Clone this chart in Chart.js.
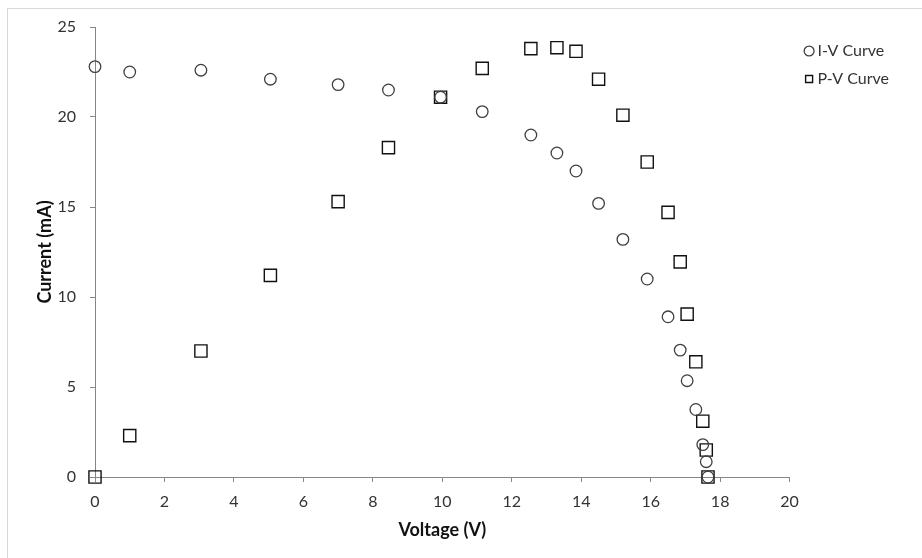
<!DOCTYPE html>
<html>
<head>
<meta charset="utf-8">
<script src="https://cdn.jsdelivr.net/npm/chart.js@4"></script>
<style>
  html, body { margin: 0; padding: 0; background: #fff; overflow: hidden; }
  #frame { position: absolute; left: 7px; top: 8px; width: 940px; height: 580px; border: 1px solid #d9d9d9; box-sizing: border-box; }
  #wrap { position: absolute; left: 0; top: 0; width: 922px; height: 558px; }
</style>
</head>
<body>
<div id="frame"></div>
<div id="wrap"><canvas id="c"></canvas></div>
<script>
const voltage = [0, 1.0, 3.05, 5.05, 7.0, 8.45, 9.95, 11.15, 12.55, 13.3, 13.85, 14.5, 15.2, 15.9, 16.5, 16.85, 17.05, 17.3, 17.5, 17.6, 17.65];
const currentIV = [22.8, 22.5, 22.6, 22.1, 21.8, 21.5, 21.1, 20.3, 19.0, 18.0, 17.0, 15.2, 13.2, 11.0, 8.9, 7.05, 5.35, 3.75, 1.8, 0.85, 0.0];
const powerPV = [0, 2.3, 7.0, 11.2, 15.3, 18.3, 21.1, 22.7, 23.8, 23.85, 23.65, 22.1, 20.1, 17.5, 14.7, 11.95, 9.05, 6.4, 3.1, 1.5, 0.0];
const seriesNames = ['I-V Curve', 'P-V Curve'];
const xTitle = 'Voltage (V)';
const yTitle = 'Current (mA)';

const FONT = 'Lato, "Open Sans", sans-serif';
const toPts = (xs, ys) => xs.map((x, i) => ({x: x, y: ys[i]}));

// shift the built-in legend box slightly right/down after layout (keeps the plot area unchanged)
const legendNudge = {
  id: 'legendNudge',
  afterLayout(chart) {
    const l = chart.legend;
    if (!l) return;
    l.left += 7; l.right += 7; l.top += 4; l.bottom += 4;
  }
};

new Chart(document.getElementById('c'), {
  type: 'scatter',
  data: {
    datasets: [
      { label: seriesNames[0], data: toPts(voltage, currentIV), pointStyle: 'circle', pointRadius: 5.8, pointHoverRadius: 5.8,
        borderColor: '#404040', backgroundColor: 'rgba(0,0,0,0)', pointBorderWidth: 1.3, clip: false },
      { label: seriesNames[1], data: toPts(voltage, powerPV), pointStyle: 'rect', pointRadius: 8.6, pointHoverRadius: 8.6,
        borderColor: '#111', backgroundColor: 'rgba(0,0,0,0)', pointBorderWidth: 1.4, clip: false }
    ]
  },
  plugins: [legendNudge],
  options: {
    responsive: true,
    maintainAspectRatio: false,
    animation: false,
    layout: { padding: { left: 0, top: 27, right: 30, bottom: 0 } },
    plugins: {
      tooltip: { enabled: false },
      legend: {
        position: 'right', align: 'start',
        labels: { usePointStyle: true, boxWidth: 1, boxHeight: 7, padding: 12, color: '#333',
          font: { family: FONT, size: 16 } }
      }
    },
    scales: {
      x: {
        type: 'linear', min: 0, max: 20,
        ticks: { stepSize: 2, color: '#333', padding: 10, font: { family: FONT, size: 16 } },
        grid: { display: true, drawOnChartArea: false, drawTicks: true, tickLength: 5, color: '#868686' },
        border: { color: '#868686', width: 1 },
        title: { display: true, text: xTitle, color: '#111', font: { family: FONT, size: 18, weight: 'bold' }, padding: { top: 0, bottom: 17 } },
        afterFit: s => { s.height = 81; }
      },
      y: {
        type: 'linear', min: 0, max: 25,
        ticks: { stepSize: 5, color: '#333', padding: 14, font: { family: FONT, size: 16 } },
        grid: { display: true, drawOnChartArea: false, drawTicks: true, tickLength: 5, color: '#868686' },
        border: { color: '#868686', width: 1 },
        title: { display: true, text: yTitle, color: '#111', font: { family: FONT, size: 18, weight: 'bold' }, padding: { top: 34, bottom: 0 } },
        afterFit: s => { s.width = 95; }
      }
    }
  }
});
</script>
</body>
</html>
